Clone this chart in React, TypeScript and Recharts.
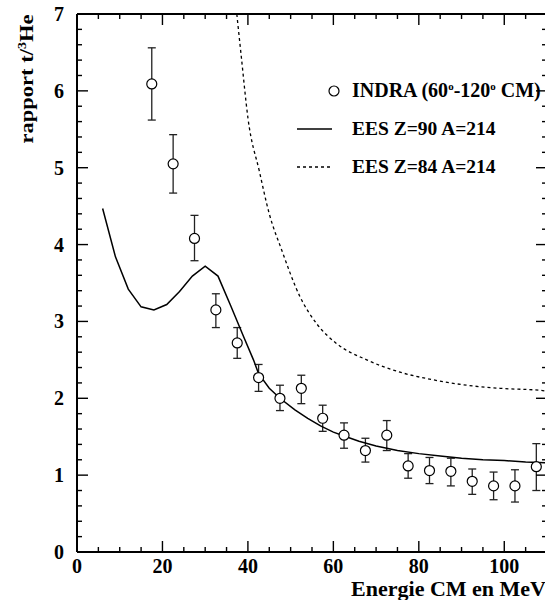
import React from 'react';
import { ComposedChart, XAxis, YAxis, Line, Scatter, ErrorBar } from 'recharts';

// INDRA data (60°-120° CM)
const indraE = [17.5, 22.5, 27.5, 32.5, 37.5, 42.5, 47.5, 52.5, 57.5, 62.5, 67.5, 72.5, 77.5, 82.5, 87.5, 92.5, 97.5, 102.5, 107.5];
const indraRatio = [6.09, 5.05, 4.08, 3.15, 2.72, 2.27, 2.0, 2.13, 1.74, 1.52, 1.32, 1.52, 1.12, 1.06, 1.05, 0.92, 0.86, 0.86, 1.11];
const indraHigh = [6.56, 5.43, 4.38, 3.36, 2.92, 2.44, 2.17, 2.3, 1.91, 1.68, 1.48, 1.71, 1.28, 1.23, 1.22, 1.08, 1.04, 1.07, 1.41];
const indraLow = [5.62, 4.67, 3.79, 2.92, 2.52, 2.09, 1.84, 1.93, 1.57, 1.35, 1.17, 1.32, 0.96, 0.89, 0.86, 0.75, 0.68, 0.65, 0.8];

// EES Z=90 A=214 (solid)
const z90E = [6, 9, 12, 15, 18, 21, 24, 27, 30, 33, 36, 39, 41.3, 42.5, 45, 47.5, 51, 54, 57, 60, 63, 66, 70, 75, 80, 85, 90, 95, 100, 105, 110];
const z90Ratio = [4.47, 3.84, 3.42, 3.19, 3.15, 3.22, 3.39, 3.59, 3.72, 3.59, 3.2, 2.8, 2.5, 2.32, 2.13, 2.0, 1.85, 1.74, 1.64, 1.56, 1.5, 1.44, 1.38, 1.32, 1.28, 1.25, 1.22, 1.2, 1.19, 1.17, 1.16];

// EES Z=84 A=214 (dashed)
const z84E = [37.4, 38.5, 40, 42.7, 45, 47.9, 52.2, 56.1, 60.8, 67.8, 75.6, 83.4, 91.2, 99, 109, 110];
const z84Ratio = [7.0, 6.42, 5.65, 4.95, 4.4, 3.93, 3.32, 2.97, 2.71, 2.5, 2.34, 2.24, 2.17, 2.13, 2.1, 2.09];

const xMajorLabels = [0, 20, 40, 60, 80, 100];
const yMajorLabels = [0, 1, 2, 3, 4, 5, 6, 7];

const xTicks: number[] = [];
for (let i = 0; i <= 22; i++) xTicks.push(i * 5);
const yTicks: number[] = [];
for (let i = 0; i <= 35; i++) yTicks.push(Math.round(i * 2) / 10);

const indraData = indraE.map((x, i) => ({
  x,
  y: indraRatio[i],
  err: [+(indraRatio[i] - indraLow[i]).toFixed(3), +(indraHigh[i] - indraRatio[i]).toFixed(3)],
}));
const z90Data = z90E.map((x, i) => ({ x, y: z90Ratio[i] }));
const z84Data = z84E.map((x, i) => ({ x, y: z84Ratio[i] }));

const FONT = "'Liberation Serif', 'Times New Roman', serif";

const isXMajor = (v: number) => xMajorLabels.includes(v);
const isYMajor = (v: number) => yMajorLabels.some((m) => Math.abs(m - v) < 1e-6);

const XTickBottom = (props: any) => {
  const { x, y, payload } = props;
  const v = payload.value;
  const major = isXMajor(v);
  return (
    <g>
      <line x1={x} x2={x} y1={y} y2={y - (major ? 11 : 5)} stroke="#000" strokeWidth={1.4} />
      {major && (
        <text x={x} y={y + 21} textAnchor="middle" fontFamily={FONT} fontWeight="bold" fontSize={20} fill="#000">
          {v}
        </text>
      )}
    </g>
  );
};

const XTickTop = (props: any) => {
  const { x, y, payload } = props;
  const major = isXMajor(payload.value);
  return <line x1={x} x2={x} y1={y} y2={y + (major ? 11 : 5)} stroke="#000" strokeWidth={1.4} />;
};

const YTickLeft = (props: any) => {
  const { x, y, payload } = props;
  const v = payload.value;
  const major = isYMajor(v);
  return (
    <g>
      <line x1={x} x2={x + (major ? 11 : 5)} y1={y} y2={y} stroke="#000" strokeWidth={1.4} />
      {major && (
        <text x={x - 13} y={y + 7} textAnchor="end" fontFamily={FONT} fontWeight="bold" fontSize={20} fill="#000">
          {Math.round(v)}
        </text>
      )}
    </g>
  );
};

const YTickRight = (props: any) => {
  const { x, y, payload } = props;
  const major = isYMajor(payload.value);
  return <line x1={x} x2={x - (major ? 11 : 5)} y1={y} y2={y} stroke="#000" strokeWidth={1.4} />;
};

const Overlay = () => (
  <g>
    {/* Y axis title */}
    <text
      transform="translate(33,79) rotate(-90) scale(1,0.82)"
      textAnchor="middle"
      fontFamily={FONT}
      fontWeight="bold"
      fontSize={22.5}
      fill="#000"
    >
      rapport t/
      <tspan dy={-8} fontSize={14}>3</tspan>
      <tspan dy={8}>He</tspan>
    </text>
    {/* X axis title */}
    <text x={546} y={596} textAnchor="end" fontFamily={FONT} fontWeight="bold" fontSize={22} fill="#000">
      Energie CM en MeV
    </text>
    {/* Legend */}
    <circle cx={334} cy={91} r={5} fill="#fff" stroke="#000" strokeWidth={1.2} />
    <text x={352} y={97} fontFamily={FONT} fontWeight="bold" fontSize={20} fill="#000">
      INDRA (60
      <tspan dy={-7} fontSize={11}>o</tspan>
      <tspan dy={7}>-120</tspan>
      <tspan dy={-7} fontSize={11}>o</tspan>
      <tspan dy={7}> CM)</tspan>
    </text>
    <line x1={297} x2={332} y1={129} y2={129} stroke="#000" strokeWidth={1.5} />
    <text x={352} y={135} fontFamily={FONT} fontWeight="bold" fontSize={19.5} fill="#000">
      EES Z=90 A=214
    </text>
    <line x1={297} x2={332} y1={167} y2={167} stroke="#000" strokeWidth={1.3} strokeDasharray="3 3" />
    <text x={352} y={173} fontFamily={FONT} fontWeight="bold" fontSize={19.5} fill="#000">
      EES Z=84 A=214
    </text>
  </g>
);

const Circle = (props: any) => {
  const { cx, cy } = props;
  if (cx == null || cy == null) return null;
  return <circle cx={cx} cy={cy} r={5} fill="#fff" stroke="#000" strokeWidth={1.2} />;
};

export default function App() {
  return (
    <div style={{ position: 'absolute', left: 0, top: 0, width: 545, height: 600, overflow: 'hidden', background: '#fff' }}>
      <ComposedChart width={560} height={600} margin={{ top: 13, right: 12, bottom: 47, left: 76 }}>
        <XAxis
          type="number"
          dataKey="x"
          domain={[0, 110]}
          ticks={xTicks}
          interval={0}
          tickSize={0}
          tickMargin={0}
          tickLine={false}
          height={1}
          axisLine={{ stroke: '#000', strokeWidth: 2 }}
          tick={<XTickBottom />}
          allowDataOverflow
        />
        <XAxis
          xAxisId="top"
          orientation="top"
          type="number"
          dataKey="x"
          domain={[0, 110]}
          ticks={xTicks}
          interval={0}
          tickSize={0}
          tickMargin={0}
          tickLine={false}
          height={1}
          axisLine={{ stroke: '#000', strokeWidth: 2 }}
          tick={<XTickTop />}
          allowDataOverflow
        />
        <YAxis
          type="number"
          domain={[0, 7]}
          ticks={yTicks}
          interval={0}
          tickSize={0}
          tickMargin={0}
          tickLine={false}
          width={1}
          axisLine={{ stroke: '#000', strokeWidth: 2 }}
          tick={<YTickLeft />}
          allowDataOverflow
          label={<Overlay />}
        />
        <YAxis
          yAxisId="right"
          orientation="right"
          type="number"
          domain={[0, 7]}
          ticks={yTicks}
          interval={0}
          tickSize={0}
          tickMargin={0}
          tickLine={false}
          width={1}
          axisLine={{ stroke: '#000', strokeWidth: 2 }}
          tick={<YTickRight />}
          allowDataOverflow
        />
        <Scatter data={indraData} dataKey="y" shape={<Circle />} isAnimationActive={false}>
          <ErrorBar dataKey="err" direction="y" width={4} stroke="#222" strokeWidth={1.3} isAnimationActive={false} />
        </Scatter>
        <Line
          data={z90Data}
          dataKey="y"
          type="linear"
          stroke="#000"
          strokeWidth={1.5}
          dot={false}
          activeDot={false}
          isAnimationActive={false}
        />
        <Line
          data={z84Data}
          dataKey="y"
          type="monotone"
          stroke="#000"
          strokeWidth={1.3}
          strokeDasharray="3 3"
          dot={false}
          activeDot={false}
          isAnimationActive={false}
        />
      </ComposedChart>
    </div>
  );
}
